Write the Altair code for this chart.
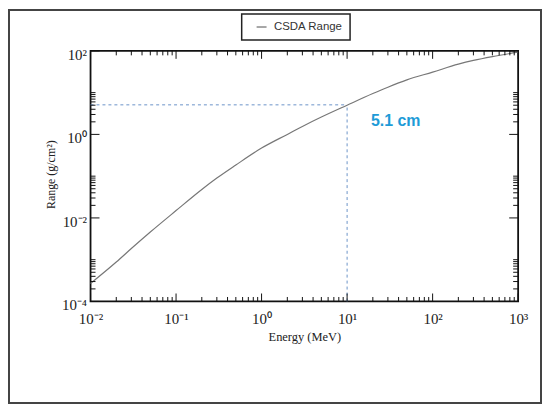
import altair as alt
import pandas as pd

# electron CSDA range
energy_mev = [0.01, 0.02, 0.03, 0.05, 0.1, 0.2, 0.3, 0.5, 1, 2, 3, 5,
              10, 20, 30, 50, 100, 200, 300, 500, 1000]
csda_range = [2.7e-4, 8.8e-4, 1.85e-3, 4.6e-3, 1.5e-2, 4.8e-2, 9.0e-2, 0.185,
              0.47, 1.0, 1.55, 2.6, 5.0, 9.5, 13.5, 20.2, 31, 48, 59, 73, 93]
series_name = "CSDA Range"

marker_energy = 10
marker_range = 5.1
label_energy = 19
label_range = 1.55

x_decades = [0.01, 0.1, 1, 10, 100, 1000]
y_decades = [1e-4, 1e-2, 1, 100]
x_minor = [k * 10.0 ** n for n in range(-2, 3) for k in range(2, 10)]
y_minor = [k * 10.0 ** n for n in (-4, -2, 0) for k in range(2, 11)]

W, H = 430, 252
serif = "Liberation Serif"
sans = "Liberation Sans"

xscale = alt.Scale(type="log", domain=[0.01, 1000], nice=False)
yscale = alt.Scale(type="log", domain=[1e-4, 100], nice=False)

sup = "['⁻⁴','⁻³','⁻²','⁻¹','⁰','¹','²','³'][round(log(datum.value)/LN10) + 4]"

xaxis = alt.Axis(values=x_decades, labelExpr="'10' + " + sup,
                 ticks=False, tickSize=0, domain=False, grid=False,
                 labelFlush=False, labelOverlap=False, labelPadding=10,
                 labelFont=serif, labelFontSize=15, labelColor="#222",
                 titleFont=serif, titleFontSize=12.5, titleFontWeight="normal",
                 titleColor="#222", titleX=215, titleY=35, titleBaseline="middle")
yaxis = alt.Axis(values=y_decades, labelExpr="'10' + " + sup,
                 ticks=False, tickSize=0, domain=False, grid=False,
                 labelOverlap=False, labelPadding=4, labelOffset=3.5,
                 labelFont=serif, labelFontSize=15, labelColor="#222",
                 titleFont=serif, titleFontSize=12, titleFontWeight="normal",
                 titleColor="#222", titleX=-40, titleY=124, titleBaseline="middle")


def X(field="energy"):
    return alt.X(field + ":Q", scale=xscale, title="Energy (MeV)", axis=xaxis)


def Y(field="range"):
    return alt.Y(field + ":Q", scale=yscale, title="Range (g/cm²)", axis=yaxis)


df = pd.DataFrame({"energy": energy_mev, "range": csda_range, "series": series_name})

curve = alt.Chart(df).mark_line(strokeWidth=1.2, interpolate="monotone").encode(
    x=X(), y=Y(),
    color=alt.Color("series:N", scale=alt.Scale(range=["#777777"]),
                    legend=alt.Legend(title=None, orient="none", legendX=152, legendY=-37,
                                      symbolType="stroke", symbolSize=100, symbolStrokeWidth=1.3,
                                      symbolOffset=7, labelOffset=6.5, padding=7,
                                      labelFont=sans, labelFontSize=11.5, labelColor="#333",
                                      strokeColor="#222"))
)

hline = alt.Chart(pd.DataFrame({"energy": [0.01], "energy2": [marker_energy], "range": [marker_range]})).mark_rule(
    color="#6b93c9", strokeWidth=1, strokeDash=[3, 3]
).encode(x=X(), x2="energy2:Q", y=Y())

vline = alt.Chart(pd.DataFrame({"energy": [marker_energy], "range": [1e-4], "range2": [marker_range]})).mark_rule(
    color="#6b93c9", strokeWidth=1, strokeDash=[3, 3]
).encode(x=X(), y=Y(), y2="range2:Q")

label = alt.Chart(pd.DataFrame({"energy": [label_energy], "range": [label_range],
                                "text": [f"{marker_range} cm"]})).mark_text(
    align="left", baseline="alphabetic", font=sans, fontSize=16, fontWeight="bold", color="#1e9bd7"
).encode(x=X(), y=Y(), text="text:N")


def xticks(values, size):
    base = alt.Chart(pd.DataFrame({"energy": values})).mark_rule(color="#111", strokeWidth=1)
    bottom = base.encode(x=X(), y=alt.value(H), y2=alt.value(H - size))
    top = base.encode(x=X(), y=alt.value(0), y2=alt.value(size))
    return [bottom, top]


def yticks(values, size):
    base = alt.Chart(pd.DataFrame({"range": values})).mark_rule(color="#111", strokeWidth=1)
    left = base.encode(y=Y(), x=alt.value(0), x2=alt.value(size))
    right = base.encode(y=Y(), x=alt.value(W), x2=alt.value(W - size))
    return [left, right]


frame = alt.Chart(pd.DataFrame({"a": [0]})).mark_rect(
    fill=None, stroke="#444", strokeWidth=2
).encode(x=alt.value(-82), x2=alt.value(453), y=alt.value(-41), y2=alt.value(354))

ticks = xticks(x_decades, 8) + xticks(x_minor, 4.5) + yticks(y_decades, 9) + yticks(y_minor, 5)

chart = alt.layer(curve, frame, hline, vline, *ticks, label).properties(
    width=W, height=H,
    autosize=alt.AutoSizeParams(type="none"),
    padding={"left": 83, "top": 42, "right": 24, "bottom": 103}
).configure_view(
    stroke="#111", strokeWidth=1.8
).configure_legend(
    strokeWidth=1.5
)

chart.save("out.html", embed_options={"renderer": "svg", "actions": False})
